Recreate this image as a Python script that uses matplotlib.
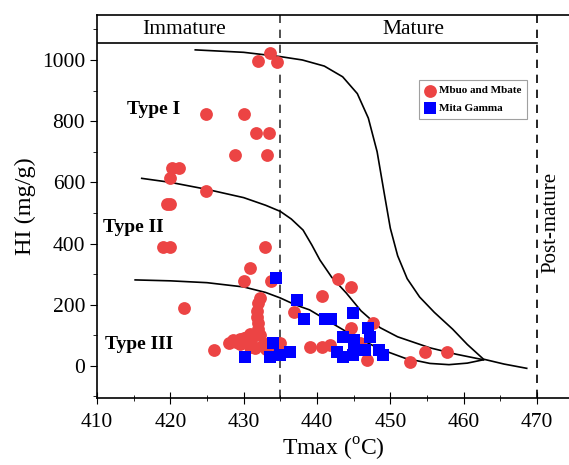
import matplotlib
matplotlib.use("Agg")
import matplotlib.pyplot as plt
from matplotlib.ticker import MultipleLocator

plt.rcParams["font.family"] = ["Liberation Serif", "DejaVu Serif"]
plt.rcParams["mathtext.fontset"] = "custom"
plt.rcParams["mathtext.rm"] = "Liberation Serif"

# Mbuo and Mbate samples (Tmax, HI)
red_t = [433.6, 431.9, 434.6, 424.9, 430.0, 431.7, 433.5, 428.8, 433.2, 420.2,
         421.2, 419.9, 424.9, 419.5, 420.0, 419.0, 420.0, 432.9, 430.9, 430.0,
         433.7, 421.9, 432.2, 432.0, 431.8, 431.8, 431.9, 432.0, 432.2, 429.0,
         430.4, 430.9, 432.7, 425.9, 428.5, 429.5, 430.0, 431.0, 433.5, 434.5,
         428.0, 431.5, 433.0, 436.8, 440.7, 442.8, 444.7, 439.0, 440.7, 441.8,
         444.7, 447.7, 446.8, 452.7, 454.7, 457.7, 445.9, 435.0, 429.5, 430.8]
red_hi = [1022, 998, 994, 824, 824, 760, 760, 689, 689, 646,
          646, 613, 573, 529, 529, 390, 390, 390, 319, 276,
          276, 188, 221, 205, 180, 161, 140, 120, 100, 79,
          96, 63, 69, 52, 85, 70, 90, 80, 75, 65,
          75, 60, 55, 177, 229, 284, 257, 63, 61, 69,
          123, 139, 18, 14, 46, 46, 75, 74, 88, 105]

# Mita Gamma samples (Tmax, HI)
blue_t = [434.4, 437.3, 438.2, 441.1, 441.9, 444.9, 446.9, 443.5, 445.0, 447.2,
          434.0, 430.2, 433.6, 435.0, 436.3, 442.7, 443.6, 444.9, 445.0, 446.6,
          448.4, 449.0]
blue_hi = [287, 216, 153, 153, 153, 172, 123, 94, 86, 94,
           76, 28, 28, 36, 44, 44, 28, 36, 52, 52,
           52, 36]

# kerogen type boundary curves
type1_t = [423.4, 430, 435, 438, 441, 443.5, 445.5, 447, 448.2, 449.2,
           450, 451, 452.3, 454, 456, 458.5, 460.5, 462.7, 465.5, 468.6]
type1_hi = [1033, 1025, 1011, 1000, 980, 945, 890, 810, 700, 560,
            450, 360, 285, 225, 175, 120, 70, 22, 6, -8]
type2_t = [416.1, 420, 425, 430, 433, 435, 436.5, 438.1, 439.3, 440.4,
           442, 444, 446, 448.6, 451, 455.4, 459, 462.7]
type2_hi = [613, 600, 577, 550, 525, 505, 480, 444, 395, 346,
            290, 238, 180, 125, 95, 59, 38, 20]
type3_t = [415.2, 420, 425, 430, 433, 435, 437, 439, 442, 445,
           448.6, 452, 455.4, 458, 460.5, 462.7]
type3_hi = [281, 278, 272, 258, 240, 222, 200, 183, 140, 98,
            55, 25, 8, 4, 9, 20]

fig = plt.figure(figsize=(5.69, 4.65), dpi=100)
ax = fig.add_axes([97 / 569, 67 / 465, 472 / 569, 383 / 465])

for t, hi in [(type1_t, type1_hi), (type2_t, type2_hi), (type3_t, type3_hi)]:
    ax.plot(t, hi, color="black", lw=1.2, zorder=2)

ax.scatter(red_t, red_hi, s=85, marker="o", color="#EC4444", lw=0,
           label="Mbuo and Mbate", zorder=3)
ax.scatter(blue_t, blue_hi, s=70, marker="s", color="#0000FF", lw=0,
           label="Mita Gamma", zorder=4)

ax.axvline(435, color="#333333", ls=(0, (5, 4)), lw=1.2, zorder=1)
ax.axvline(470, color="black", ls=(0, (5, 4)), lw=1.2, zorder=1)
ax.plot([410, 470], [1056, 1056], color="black", lw=1.2)

ax.text(421.9, 1101, "Immature", fontsize=15.5, ha="center", va="center")
ax.text(453.2, 1101, "Mature", fontsize=15.5, ha="center", va="center")
ax.text(471.9, 470, "Post-mature", fontsize=15, rotation=90,
        ha="center", va="center")
ax.text(414.1, 837, "Type I", fontsize=14, fontweight="bold", va="center")
ax.text(410.8, 451, "Type II", fontsize=14, fontweight="bold", va="center")
ax.text(411.1, 69, "Type III", fontsize=14, fontweight="bold", va="center")

ax.set_xlim(410, 410 + 472 / 7.333)
ax.set_ylim(-105, 1147)
ax.xaxis.set_major_locator(MultipleLocator(10))
ax.xaxis.set_minor_locator(MultipleLocator(5))
ax.yaxis.set_minor_locator(MultipleLocator(100))
ax.set_yticks(range(0, 1001, 200))
ax.tick_params(axis="x", which="both", direction="inout", labelsize=15.5)
ax.tick_params(axis="x", which="major", length=8, pad=7)
ax.tick_params(axis="x", which="minor", length=5)
ax.tick_params(axis="y", which="both", direction="out", labelsize=15.5)
ax.tick_params(axis="y", which="major", length=5)
ax.tick_params(axis="y", which="minor", length=3)
ax.spines["right"].set_visible(False)
for s in ["left", "top", "bottom"]:
    ax.spines[s].set_linewidth(1.2)

ax.set_xlabel("Tmax ($^{\\rm o}$C)", fontsize=17, labelpad=3)
ax.set_ylabel("HI (mg/g)", fontsize=17.5, labelpad=4)

leg = ax.legend(loc="upper right", bbox_to_anchor=(0.911, 0.830),
                borderaxespad=0, fancybox=False, frameon=True,
                prop={"weight": "bold", "size": 8}, handletextpad=0.3,
                borderpad=0.5, labelspacing=0.7, handlelength=1.0)
leg.get_frame().set_edgecolor("#888888")
leg.get_frame().set_linewidth(0.8)

fig.savefig("out.png", dpi=100)
